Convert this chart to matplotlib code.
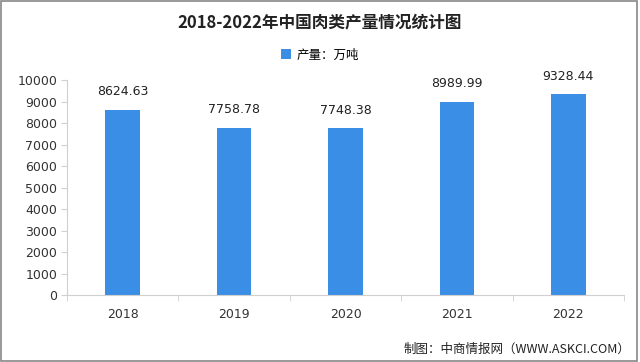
import matplotlib
matplotlib.use('Agg')
import matplotlib.pyplot as plt
from matplotlib.patches import Rectangle

plt.rcParams['font.family'] = ['Noto Sans CJK SC', 'DejaVu Sans']

years = ['2018', '2019', '2020', '2021', '2022']
output = [8624.63, 7758.78, 7748.38, 8989.99, 9328.44]
yticks = list(range(0, 10001, 1000))

bar_color = '#3a8ee6'
axis_color = '#d0d0d0'

fig = plt.figure(figsize=[6.4, 3.62], dpi=100)
ax = fig.add_axes([0.1047, 0.185, 0.8703, 0.594])

x = range(len(years))
ax.bar(x, output, width=0.31, color=bar_color, label='产量：万吨')
for xi, v in zip(x, output):
    ax.text(xi, v + 550, f'{v:.2f}', ha='center', va='bottom',
            fontsize=9, family='DejaVu Sans', color='#222222')

ax.set_xlim(-0.5, len(years) - 0.5)
ax.set_ylim(0, 10000)
ax.set_yticks(yticks)
ax.set_yticklabels([str(t) for t in yticks], fontsize=9,
                   family='DejaVu Sans', color='#333333')
ax.set_xticks(list(x))
ax.set_xticklabels(years, fontsize=9, family='DejaVu Sans', color='#333333')
ax.tick_params(axis='x', length=0, pad=9)
ax.tick_params(axis='y', length=4, color=axis_color, pad=3)

# category separator ticks on the x axis
ax.set_xticks([i - 0.5 for i in range(len(years) + 1)], minor=True)
ax.tick_params(axis='x', which='minor', length=4, color=axis_color)

for side in ['top', 'right']:
    ax.spines[side].set_visible(False)
ax.spines['left'].set_color(axis_color)
ax.spines['bottom'].set_color(axis_color)

fig.text(0.5, 0.938, '2018-2022年中国肉类产量情况统计图', ha='center',
         va='center', fontsize=12, fontweight='bold', color='#222222')
ax.legend(loc='center', bbox_to_anchor=(0.5, 0.848),
          bbox_transform=fig.transFigure, frameon=False, fontsize=9,
          handlelength=0.8, handleheight=0.8, handletextpad=0.5)
fig.text(0.985, 0.036, '制图：中商情报网（WWW.ASKCI.COM）', ha='right',
         va='center', fontsize=9, color='#222222')

fig.patches.append(Rectangle((0.002, 0.004), 0.994, 0.992,
                             transform=fig.transFigure, fill=False,
                             edgecolor='#888888', linewidth=1.2))

fig.savefig('out.png', dpi=100)
